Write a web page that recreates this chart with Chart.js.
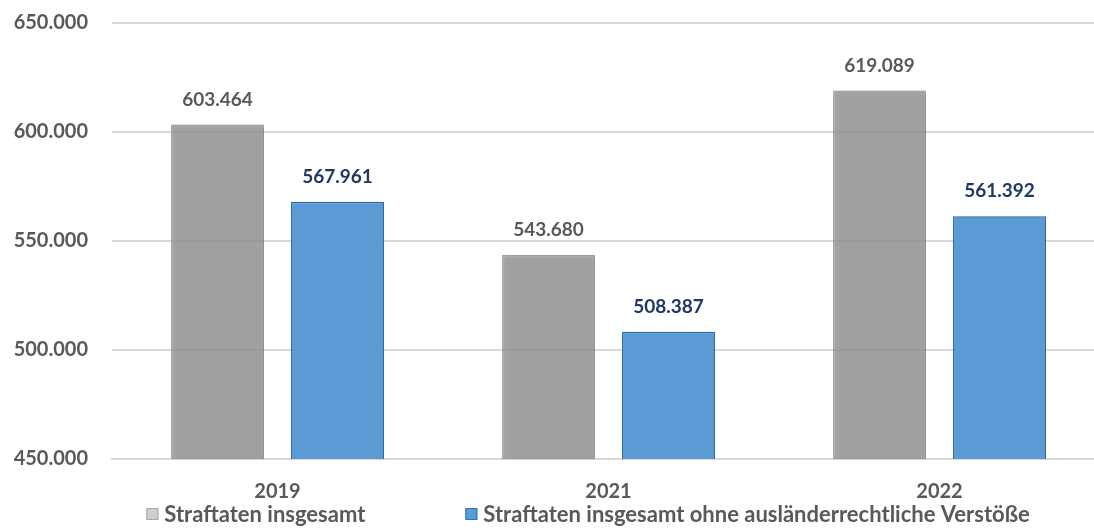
<!DOCTYPE html>
<html>
<head>
<meta charset="utf-8">
<script src="https://cdn.jsdelivr.net/npm/chart.js@4.4.1/dist/chart.umd.min.js"></script>
<style>
  html, body { margin: 0; padding: 0; background: #fff; overflow: hidden; }
  #wrap { width: 1170px; height: 530px; }
</style>
</head>
<body>
<div id="wrap"><canvas id="crimeChart" width="1170" height="530"></canvas></div>
<script>
// jahre
var years = ['2019', '2021', '2022'];
// Straftaten insgesamt
var totalCrimes = [603464, 543680, 619089];
// ohne auslaenderrechtliche Verstoesse
var withoutForeignerLaw = [567961, 508387, 561392];
var yMin = 450000, yMax = 650000, yStep = 50000;

var seriesNames = ['Straftaten insgesamt', 'Straftaten insgesamt ohne ausländerrechtliche Verstöße'];
var labelColors = ['#595959', '#1F3864'];
var legendBoxColors = [['#D0CFCF', '#A6A6A6'], ['#5B9BD5', '#2E75B6']];

function fmt(v) {
    return String(v).replace(/\B(?=(\d{3})+(?!\d))/g, '.');
}

// oberkante der zeichenflaeche festlegen
var plotTop = {
    id: 'plotTop',
    afterLayout: function (chart) {
        var top = 23, y = chart.scales.y;
        chart.chartArea.top = top;
        chart.chartArea.height = chart.chartArea.bottom - top;
        y.top = top;
        y.height = y.bottom - top;
        y.configure();
    }
};

// werte ueber die balken
var valueLabels = {
    id: 'valueLabels',
    afterDatasetsDraw: function (chart) {
        var ctx = chart.ctx;
        ctx.save();
        ctx.font = 'bold 19px Lato';
        ctx.textAlign = 'center';
        ctx.textBaseline = 'middle';
        chart.data.datasets.forEach(function (ds, i) {
            var meta = chart.getDatasetMeta(i);
            ctx.fillStyle = labelColors[i];
            meta.data.forEach(function (bar, j) {
                ctx.fillText(fmt(ds.data[j]), bar.x, bar.y - 25);
            });
        });
        ctx.restore();
    }
};

// leichter schatten wie in excel
var barShadow = {
    id: 'barShadow',
    beforeDatasetDraw: function (chart) {
        var ctx = chart.ctx;
        ctx.save();
        ctx.shadowColor = 'rgba(0,0,0,0.28)';
        ctx.shadowBlur = 4;
        ctx.shadowOffsetX = 1;
        ctx.shadowOffsetY = 1;
    },
    afterDatasetDraw: function (chart) {
        chart.ctx.restore();
    }
};

// legende unten, breiter abstand zwischen den eintraegen
var bottomLegend = {
    id: 'bottomLegend',
    afterDraw: function (chart) {
        var ctx = chart.ctx;
        var box = 12, gapText = 6, gapItems = 100, cy = 514, centerX = 588;
        ctx.save();
        ctx.font = 'bold 22px Lato';
        ctx.textBaseline = 'middle';
        var widths = chart.data.datasets.map(function (ds) {
            return box + gapText + ctx.measureText(ds.label).width;
        });
        var total = widths.reduce(function (a, b) { return a + b; }, 0) + gapItems * (widths.length - 1);
        var x = centerX - total / 2;
        chart.data.datasets.forEach(function (ds, i) {
            ctx.fillStyle = legendBoxColors[i][0];
            ctx.strokeStyle = legendBoxColors[i][1];
            ctx.lineWidth = 1;
            ctx.fillRect(x, cy - box / 2, box, box);
            ctx.strokeRect(x + 0.5, cy - box / 2 + 0.5, box - 1, box - 1);
            ctx.fillStyle = '#595959';
            ctx.fillText(ds.label, x + box + gapText, cy + 1);
            x += widths[i] + gapItems;
        });
        ctx.restore();
    }
};

new Chart(document.getElementById('crimeChart'), {
    type: 'bar',
    data: {
        labels: years,
        datasets: [
            {
                label: seriesNames[0],
                data: totalCrimes,
                backgroundColor: 'rgba(151,149,150,0.79)',
                borderColor: 'rgba(150,150,150,0.8)',
                borderWidth: 1.5,
                categoryPercentage: 0.725,
                barPercentage: 0.775
            },
            {
                label: seriesNames[1],
                data: withoutForeignerLaw,
                backgroundColor: '#5B9BD5',
                borderColor: '#2E75B6',
                borderWidth: 1.5,
                categoryPercentage: 0.725,
                barPercentage: 0.775
            }
        ]
    },
    options: {
        responsive: false,
        animation: false,
        devicePixelRatio: 1,
        layout: { padding: { top: 23, left: 0, right: 65, bottom: 27 } },
        scales: {
            x: {
                grid: { display: false },
                border: { color: '#D9D9D9', width: 2 },
                ticks: {
                    color: '#595959',
                    font: { family: 'Lato', size: 20, weight: 'bold' },
                    padding: 13
                },
                afterFit: function (axis) { axis.height = 44; }
            },
            y: {
                min: yMin,
                max: yMax,
                ticks: {
                    stepSize: yStep,
                    color: '#595959',
                    font: { family: 'Lato', size: 20, weight: 'bold' },
                    padding: 24,
                    callback: function (v) { return fmt(v); }
                },
                grid: { color: '#D9D9D9', lineWidth: 2, drawTicks: false },
                border: { display: false },
                afterFit: function (axis) { axis.width = 112; }
            }
        },
        plugins: {
            legend: { display: false },
            tooltip: { enabled: false }
        }
    },
    plugins: [plotTop, barShadow, valueLabels, bottomLegend]
});
</script>
</body>
</html>
